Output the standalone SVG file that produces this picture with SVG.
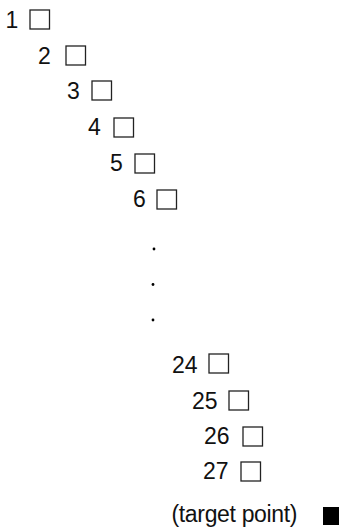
<svg xmlns="http://www.w3.org/2000/svg" width="342" height="530" viewBox="0 0 342 530">
<style>
text{font-family:"Liberation Sans",Arial,sans-serif;font-size:23px;fill:#111}
.b{fill:#fff;stroke:#222;stroke-width:1.3}
.f{fill:#000}
.d{fill:#000}
</style>
<rect width="342" height="530" fill="#fff"/>
<g id="n1"><text x="5.5" y="28">1</text><rect class="b" x="30" y="10" width="19.5" height="19"/></g>
<g id="n2"><text x="38" y="64">2</text><rect class="b" x="66" y="46" width="19.5" height="19"/></g>
<g id="n3"><text x="67" y="99">3</text><rect class="b" x="92" y="81" width="19.5" height="19"/></g>
<g id="n4"><text x="88" y="135">4</text><rect class="b" x="114" y="118" width="19.5" height="19"/></g>
<g id="n5"><text x="110" y="171">5</text><rect class="b" x="135" y="154" width="19.5" height="19"/></g>
<g id="n6"><text x="133" y="207">6</text><rect class="b" x="157" y="190" width="19.5" height="19"/></g>
<g id="dots"><circle class="d" cx="154" cy="249" r="1.4"/><circle class="d" cx="153" cy="284.5" r="1.4"/><circle class="d" cx="153" cy="320" r="1.4"/></g>
<g id="n24"><text x="172" y="373">24</text><rect class="b" x="209" y="354" width="19.5" height="19"/></g>
<g id="n25"><text x="192" y="409">25</text><rect class="b" x="229" y="391" width="19.5" height="19"/></g>
<g id="n26"><text x="204" y="444">26</text><rect class="b" x="243" y="427" width="19.5" height="19"/></g>
<g id="n27"><text x="203" y="479">27</text><rect class="b" x="241" y="462" width="19.5" height="19"/></g>
<g id="target"><text x="171.5" y="522" textLength="126">(target point)</text><rect class="f" x="323" y="507" width="16" height="18"/></g>
<g id="connectors"/>
</svg>
